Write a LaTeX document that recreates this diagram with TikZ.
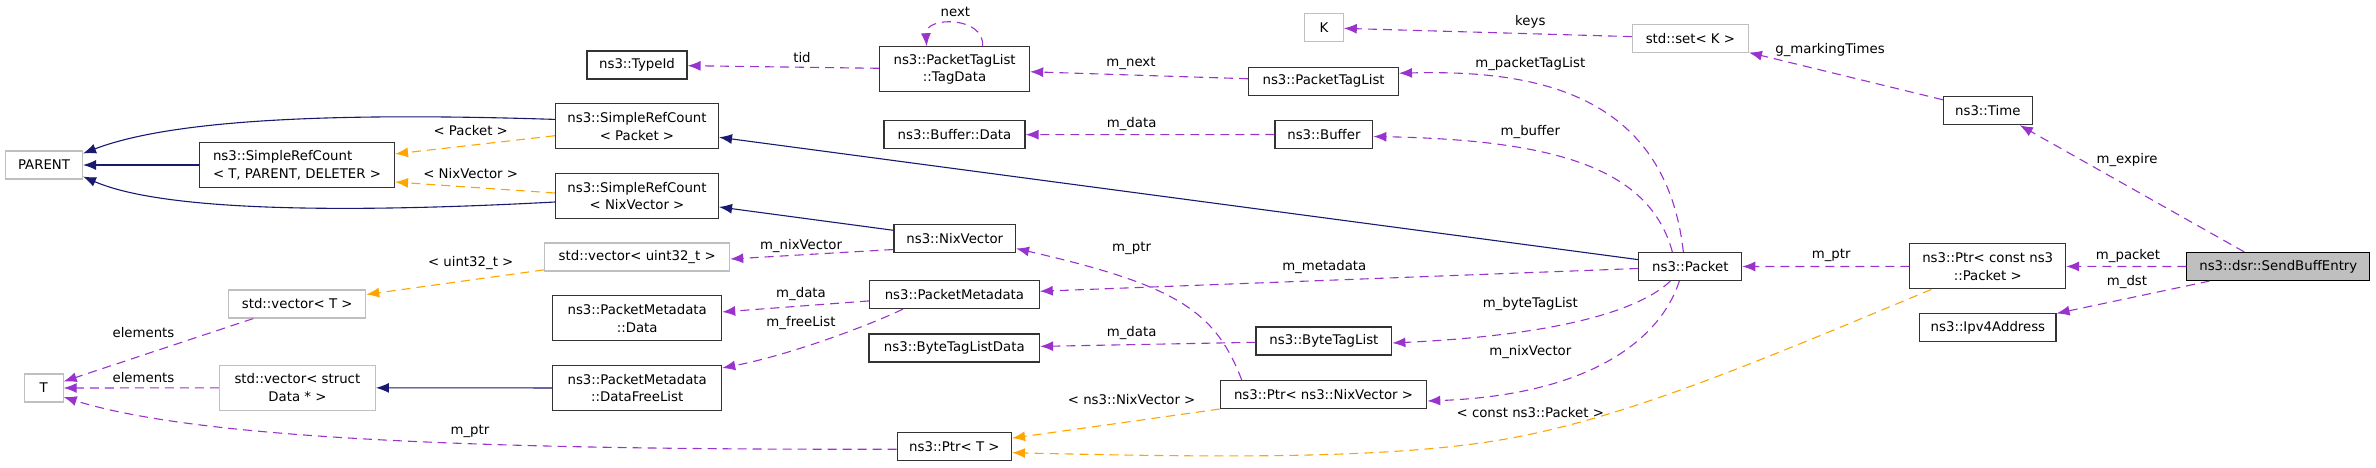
\documentclass[tikz,border=0pt]{standalone}
\usepackage{fontspec}
\setmainfont{DejaVu Sans}
\usetikzlibrary{arrows.meta}

\definecolor{memberc}{HTML}{9A32CD}
\definecolor{templc}{HTML}{FFA500}
\definecolor{inhc}{HTML}{191970}
\definecolor{extc}{HTML}{BFBFBF}

\begin{document}
\begin{tikzpicture}[->,
            >={Latex[length=13pt,width=10pt]},
            x=1pt, y=-1pt,
            line width=1.1pt,
            every node/.style={font=\fontsize{13.3}{17.6}\selectfont},
            cls/.style={draw=black!80, fill=white, inner sep=0pt,
                        minimum height=28pt, align=center},
            ext/.style={cls, draw=extc},
            focus/.style={cls, draw=black, fill=extc},
            two/.style={minimum height=45pt},
            member/.style={draw=memberc, dash pattern=on 9pt off 6pt},
            templ/.style={draw=templc, dash pattern=on 9pt off 6pt},
            inherit/.style={draw=inhc},
            lbl/.style={inner sep=0pt}]

        \useasboundingbox (0,0) rectangle (2376,467);

        \node[ext, minimum width=77pt]           (parent)   at (44,165)       {PARENT};
        \node[cls, two, minimum width=195pt, align=left]
                                                 (srcbase)  at (297,165)      {ns3::SimpleRefCount\\< T, PARENT, DELETER >};
        \node[cls, two, minimum width=163pt]     (srcpkt)   at (637,126.4)    {ns3::SimpleRefCount\\< Packet >};
        \node[cls, two, minimum width=163pt]     (srcnix)   at (637,196)      {ns3::SimpleRefCount\\< NixVector >};
        \node[cls, minimum width=100pt]          (typeid)   at (637,65)       {ns3::TypeId};
        \node[ext, minimum width=185pt]          (vecuint)  at (637.2,257)    {std::vector< uint32\_t >};
        \node[cls, two, minimum width=169pt]     (pmdata)   at (637.2,318.3)  {ns3::PacketMetadata\\::Data};
        \node[cls, two, minimum width=169pt]     (pmfree)   at (637.2,388)    {ns3::PacketMetadata\\::DataFreeList};
        \node[ext, minimum width=137pt]          (vect)     at (297.2,304)    {std::vector< T >};
        \node[ext, two, minimum width=156pt]     (vecdata)  at (297.4,387.8)  {std::vector< struct\\Data * >};
        \node[ext, minimum width=38.6pt]         (t)        at (43.8,388)     {T};
        \node[cls, two, minimum width=150pt]     (tagdata)  at (954.6,69.3)   {ns3::PacketTagList\\::TagData};
        \node[cls, minimum width=141pt]          (bufdata)  at (954.5,134.7)  {ns3::Buffer::Data};
        \node[cls, minimum width=121.5pt]        (nixvec)   at (954.75,238.5) {ns3::NixVector};
        \node[cls, minimum width=169.6pt]        (metadata) at (954.4,294.5)  {ns3::PacketMetadata};
        \node[cls, minimum width=170.6pt]        (btldata)  at (954.3,348)    {ns3::ByteTagListData};
        \node[cls, minimum width=114.3pt]        (ptrt)     at (954.35,446.2) {ns3::Ptr< T >};
        \node[ext, minimum width=38.5pt]         (k)        at (1324,27.8)    {K};
        \node[cls, minimum width=149.7pt]        (tags)     at (1323.6,81.2)  {ns3::PacketTagList};
        \node[cls, minimum width=97.8pt]         (buffer)   at (1323.9,134.5) {ns3::Buffer};
        \node[cls, minimum width=135.9pt]        (btl)      at (1323.9,341)   {ns3::ByteTagList};
        \node[cls, minimum width=206.5pt]        (ptrnix)   at (1323.5,394.5) {ns3::Ptr< ns3::NixVector >};
        \node[ext, minimum width=116pt]          (set)      at (1690.4,38.3)  {std::set< K >};
        \node[cls, minimum width=102.8pt]        (packet)   at (1690.3,266.5) {ns3::Packet};
        \node[cls, minimum width=89pt]           (time)     at (1987.8,110.7) {ns3::Time};
        \node[cls, two, minimum width=155.8pt]   (ptrpkt)   at (1987.7,266.4) {ns3::Ptr< const ns3\\::Packet >};
        \node[cls, minimum width=136.2pt]        (ipv4)     at (1987.9,327.9) {ns3::Ipv4Address};
        \node[focus, minimum width=183pt]        (entry)    at (2278.3,266.5) {ns3::dsr::SendBuffEntry};

        % inheritance
        \draw[inherit] ([yshift=7pt]srcpkt.west) .. controls (330,112) and (170,120) .. ([yshift=-3pt]parent.north east);
        \draw[inherit] (srcbase) -- (parent);
        \draw[inherit] ([yshift=-6pt]srcnix.west) .. controls (330,214) and (160,210) .. ([yshift=3pt]parent.south east);
        \draw[inherit] (packet) -- (srcpkt);
        \draw[inherit] (nixvec) -- (srcnix);
        \draw[inherit] (pmfree) -- (vecdata);

        % template instances
        \draw[templ] (srcpkt) -- (srcbase);
        \draw[templ] ([yshift=3pt]srcnix.west) -- ([yshift=-17pt]srcbase.east);
        \draw[templ] (vecuint) -- (vect);
        \draw[templ] (ptrnix) -- (ptrt);
        \draw[templ] ([xshift=22pt]ptrpkt.south west) .. controls (1750,365) and (1620,420) .. (1500,440)
                     .. controls (1380,460) and (1200,457) .. ([yshift=-6.5pt]ptrt.east);

        % members
        \draw[member] ([xshift=28pt]tagdata.north) .. controls (985,16) and (925,16) .. ([xshift=-28pt]tagdata.north);
        \draw[member] (tagdata) -- (typeid);
        \draw[member] (tags) -- (tagdata);
        \draw[member] (buffer) -- (bufdata);
        \draw[member] ([yshift=-11pt]nixvec.west) -- ([yshift=-2pt]vecuint.east);
        \draw[member] (metadata) -- (pmdata);
        \draw[member] ([xshift=34pt]metadata.south west) .. controls (870,325) and (790,355) .. ([yshift=-3pt]pmfree.north east);
        \draw[member] (btl) -- (btldata);
        \draw[member] ([xshift=22pt]ptrnix.north west) .. controls (1215,310) and (1175,285) .. ([yshift=-10pt]nixvec.east);
        \draw[member] ([yshift=-3pt]ptrt.west) .. controls (500,450) and (200,440) .. ([yshift=-9pt]t.east);
        \draw[member] (vect) -- (t);
        \draw[member] (vecdata) -- (t);
        \draw[member] (set) -- (k);
        \draw[member] (time) -- (set);
        \draw[member] ([xshift=45pt]packet.north west) .. controls (1665,90) and (1530,70) .. ([yshift=8pt]tags.east);
        \draw[member] ([xshift=34pt]packet.north west) .. controls (1650,170) and (1560,140) .. ([yshift=-2pt]buffer.east);
        \draw[member] (packet) -- (metadata);
        \draw[member] ([xshift=32pt]packet.south west) .. controls (1640,310) and (1560,335) .. ([yshift=-2pt]btl.east);
        \draw[member] ([xshift=41pt]packet.south west) .. controls (1660,340) and (1590,395) .. ([yshift=-6.5pt]ptrnix.east);
        \draw[member] (ptrpkt) -- (packet);
        \draw[member] (entry) -- (ptrpkt);
        \draw[member] (entry) -- (ipv4);
        \draw[member] ([xshift=-34pt]entry.north) -- ([xshift=32pt]time.south);

        % edge labels
        \node[lbl] (lpkt)      at (470.7,131)    {< Packet >};
        \node[lbl] (lnix)      at (470.7,174)    {< NixVector >};
        \node[lbl] (luint)     at (470.7,263.3)  {< uint32\_t >};
        \node[lbl] (lelem1)    at (143.5,332.3)  {elements};
        \node[lbl] (lelem2)    at (143.5,378)    {elements};
        \node[lbl] (lptrt)     at (470,431.3)    {m\_ptr};
        \node[lbl] (lnext)     at (955.4,12.3)   {next};
        \node[lbl] (ltid)      at (802,58)       {tid};
        \node[lbl] (lnixv)     at (801,246)      {m\_nixVector};
        \node[lbl] (lpmdata)   at (801,294)      {m\_data};
        \node[lbl] (lfree)     at (801,323.3)    {m\_freeList};
        \node[lbl] (lmnext)    at (1131,63.3)    {m\_next};
        \node[lbl] (lbufdata)  at (1131.6,124.3) {m\_data};
        \node[lbl] (lptrnix)   at (1131.6,248.3) {m\_ptr};
        \node[lbl] (lbtldata)  at (1131.6,332.7) {m\_data};
        \node[lbl] (ltnix)     at (1131.6,399.3) {< ns3::NixVector >};
        \node[lbl] (lmeta)     at (1324.3,267.3) {m\_metadata};
        \node[lbl] (lkeys)     at (1530.3,22.3)  {keys};
        \node[lbl] (ltags)     at (1530.3,64)    {m\_packetTagList};
        \node[lbl] (lbuf)      at (1530.3,131.7) {m\_buffer};
        \node[lbl] (lbtl)      at (1530.3,304.3) {m\_byteTagList};
        \node[lbl] (lpnix)     at (1530.3,352.3) {m\_nixVector};
        \node[lbl] (ltpkt)     at (1530.3,412.3) {< const ns3::Packet >};
        \node[lbl] (lmark)     at (1830,50)      {g\_markingTimes};
        \node[lbl] (lptrpkt)   at (1831.2,255.7) {m\_ptr};
        \node[lbl] (lexpire)   at (2127,160)     {m\_expire};
        \node[lbl] (lpacket)   at (2128,255.7)   {m\_packet};
        \node[lbl] (ldst)      at (2127,282)     {m\_dst};

    \end{tikzpicture}
\end{document}
